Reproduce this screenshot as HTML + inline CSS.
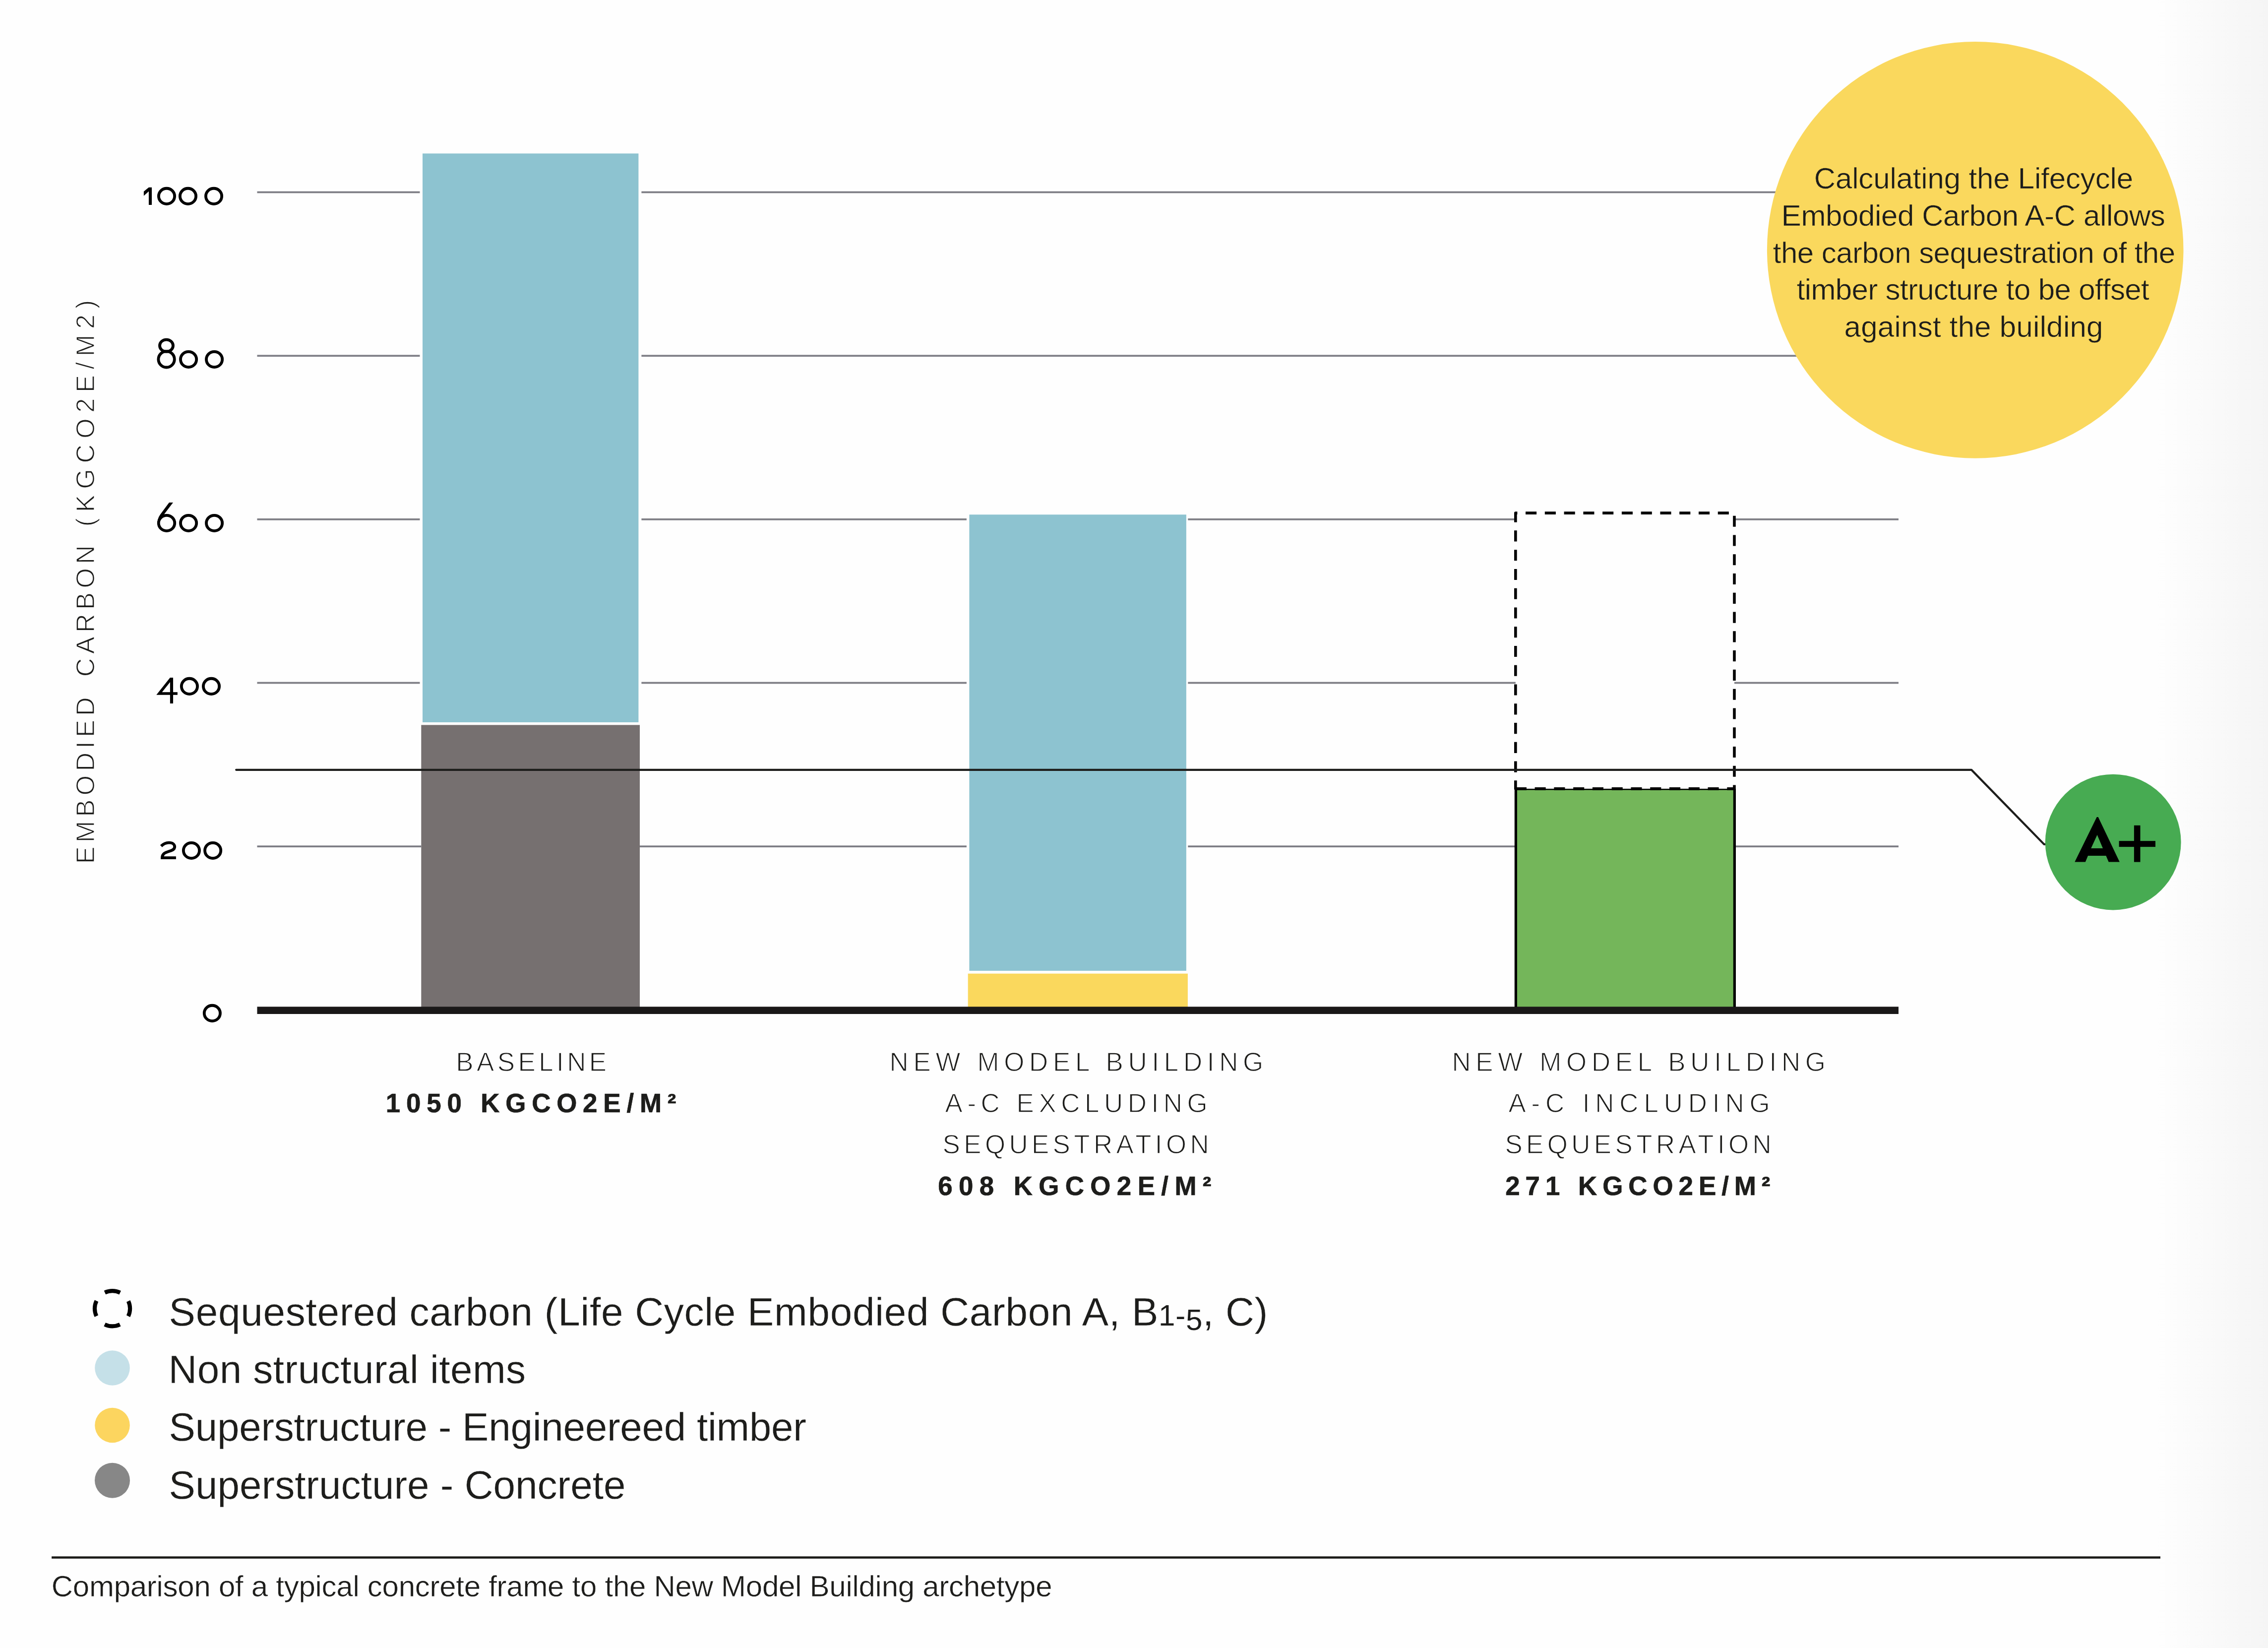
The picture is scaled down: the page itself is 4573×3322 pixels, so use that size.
<!DOCTYPE html>
<html lang="en"><head><meta charset="utf-8"><title>Embodied carbon comparison</title>
<style>html,body{margin:0;padding:0;background:#fefefe;}body{width:4573px;height:3322px;overflow:hidden;font-family:"Liberation Sans",sans-serif;}svg{display:block}</style></head><body>
<svg width="4573" height="3322" viewBox="0 0 4573 3322" role="img" aria-label="Embodied carbon comparison bar chart">
<defs><linearGradient id="rg" x1="0" x2="1" y1="0" y2="0"><stop offset="0" stop-color="#fefefe"/><stop offset="1" stop-color="#f5f5f5"/></linearGradient></defs>
<rect x="0" y="0" width="4573" height="3322" fill="#fefefe"/>
<rect x="4345" y="0" width="228" height="3322" fill="url(#rg)"/>
<rect x="518.50" y="385.65" width="328.00" height="3.7" fill="#7d7d84"/>
<rect x="1293.40" y="385.65" width="2406.60" height="3.7" fill="#7d7d84"/>
<rect x="518.50" y="715.35" width="328.00" height="3.7" fill="#7d7d84"/>
<rect x="1293.40" y="715.35" width="2406.60" height="3.7" fill="#7d7d84"/>
<rect x="518.50" y="1045.05" width="328.00" height="3.7" fill="#7d7d84"/>
<rect x="1293.40" y="1045.05" width="655.50" height="3.7" fill="#7d7d84"/>
<rect x="2395.30" y="1045.05" width="660.55" height="3.7" fill="#7d7d84"/>
<rect x="3497.00" y="1045.05" width="331.00" height="3.7" fill="#7d7d84"/>
<rect x="518.50" y="1374.65" width="328.00" height="3.7" fill="#7d7d84"/>
<rect x="1293.40" y="1374.65" width="655.50" height="3.7" fill="#7d7d84"/>
<rect x="2395.30" y="1374.65" width="660.55" height="3.7" fill="#7d7d84"/>
<rect x="3497.00" y="1374.65" width="331.00" height="3.7" fill="#7d7d84"/>
<rect x="518.50" y="1704.35" width="330.80" height="3.7" fill="#7d7d84"/>
<rect x="1290.00" y="1704.35" width="658.90" height="3.7" fill="#7d7d84"/>
<rect x="2395.30" y="1704.35" width="660.55" height="3.7" fill="#7d7d84"/>
<rect x="3497.00" y="1704.35" width="331.00" height="3.7" fill="#7d7d84"/>
<rect x="852" y="309.4" width="435.40" height="1146.60" fill="#8dc3d0"/>
<rect x="849.3" y="1461.4" width="440.70" height="568.90" fill="#767070"/>
<rect x="1954.4" y="1037.3" width="437.50" height="919.60" fill="#8dc3d0"/>
<rect x="1951.7" y="1962.6" width="443.20" height="67.70" fill="#fad85d"/>
<rect x="3056.4" y="1589.9" width="441.00" height="444.40" fill="#74b65a" stroke="#000" stroke-width="5.2"/>
<rect x="3053.1" y="1560" width="449" height="29.9" fill="#fefefe"/>
<path d="M3055.85 1589.9 H3497 V1034.15 H3055.85 Z" fill="none" stroke="#000" stroke-width="5.6" stroke-linejoin="round" stroke-dasharray="22.1 16.67"/>
<path d="M476.2 1551.8 H3975 L4121.5 1701.9 H4127" fill="none" stroke="#1d1d1b" stroke-width="4.2" stroke-linecap="round" stroke-linejoin="round"/>
<rect x="518.5" y="2029.3" width="3309.50" height="14.70" fill="#1a1818"/>
<circle cx="3982.7" cy="503.9" r="419.8" fill="#fad85d"/>
<circle cx="4260.7" cy="1697.6" r="136.9" fill="#47ab52"/>
<path fill="#000" fill-rule="evenodd" d="M4183.3 1737.6 L4227.8 1646.9 L4230.6 1646.9 L4273.8 1737.6 L4251.7 1737.6 L4246.4 1725 L4210 1725 L4204.8 1737.6 Z M4216.2 1710 L4240 1710 L4228.6 1682.9 Z"/>
<rect x="4302.9" y="1663.8" width="12.6" height="73.8" fill="#000"/>
<rect x="4272.6" y="1695.2" width="73.4" height="11.9" fill="#000"/>
<circle cx="226.55" cy="2637.75" r="35.6" fill="none" stroke="#000" stroke-width="8.15" stroke-dasharray="31.8 24.12" stroke-dashoffset="15.9"/>
<circle cx="226.5" cy="2757.5" r="35.3" fill="#c5e0e8"/>
<circle cx="226.5" cy="2873" r="35.3" fill="#fcd55f"/>
<circle cx="226.5" cy="2984.2" r="35.5" fill="#878787"/>
<rect x="104.1" y="3137.3" width="4251.90" height="4.5" fill="#1a1a18"/>
<path fill="#000" d="M299.96 377.8 H306.07 V413 H299.96 V385.8 L289.9 394.8 V386.1 Z"/>
<ellipse cx="336.0" cy="395.4" rx="16.1" ry="15.65" fill="none" stroke="#000" stroke-width="5.8"/>
<ellipse cx="379.0" cy="395.4" rx="16.1" ry="15.65" fill="none" stroke="#000" stroke-width="5.8"/>
<ellipse cx="431.05" cy="395.4" rx="16.1" ry="15.65" fill="none" stroke="#000" stroke-width="5.8"/>
<ellipse cx="335.5" cy="696.8" rx="13.5" ry="12.15" fill="none" stroke="#000" stroke-width="5.8"/>
<circle cx="335.6" cy="724.3" r="16.2" fill="none" stroke="#000" stroke-width="5.8"/>
<ellipse cx="380.1" cy="724.45" rx="16.1" ry="15.65" fill="none" stroke="#000" stroke-width="5.8"/>
<ellipse cx="432.1" cy="724.45" rx="16.1" ry="15.65" fill="none" stroke="#000" stroke-width="5.8"/>
<path fill="#000" d="M341.1 1012.9 H349 L330.5 1037.2 L321 1050 L317.9 1048.3 Q319.2 1042.3 323.2 1037.0 Z"/>
<ellipse cx="336.0" cy="1054.45" rx="16.25" ry="15.65" fill="none" stroke="#000" stroke-width="5.8"/>
<ellipse cx="380.1" cy="1054.45" rx="16.1" ry="15.65" fill="none" stroke="#000" stroke-width="5.8"/>
<ellipse cx="432.1" cy="1054.45" rx="16.1" ry="15.65" fill="none" stroke="#000" stroke-width="5.8"/>
<path fill="#000" fill-rule="evenodd" d="M342.9 1365.9 H349.05 V1395.3 H357.9 V1400.8 H349.05 V1417.9 H342.9 V1400.8 H315.3 Z M342.9 1375 L326.7 1395.3 H342.9 Z"/>
<ellipse cx="381.95" cy="1383.4" rx="16.1" ry="15.65" fill="none" stroke="#000" stroke-width="5.8"/>
<ellipse cx="426.05" cy="1383.4" rx="16.1" ry="15.65" fill="none" stroke="#000" stroke-width="5.8"/>
<path fill="none" stroke="#000" stroke-width="5.8" stroke-linejoin="miter" d="M324.9 1705.6 C329 1701.6 334.2 1698.7 340.6 1698.7 C348 1698.7 352.2 1702.1 352.2 1707 C352.2 1712.4 346.6 1714.4 340.4 1716.2 C332.8 1718.5 327.0 1721.2 327.0 1729.05 H354.9"/>
<ellipse cx="385.95" cy="1714.45" rx="16.1" ry="15.65" fill="none" stroke="#000" stroke-width="5.8"/>
<ellipse cx="429.15" cy="1714.45" rx="16.1" ry="15.65" fill="none" stroke="#000" stroke-width="5.8"/>
<ellipse cx="427.9" cy="2042.4" rx="16.1" ry="15.65" fill="none" stroke="#000" stroke-width="5.8"/>
<text id="yl1" x="0" y="0" transform="translate(189.90 1741.20) rotate(-90)" style="font-family:'Liberation Sans',sans-serif;font-size:52.3px;font-weight:400;letter-spacing:8.157px;" fill="#1d1d1b" stroke="#fefefe" stroke-width="1.35" stroke-linejoin="round" xml:space="preserve">EMBODIED</text>
<text id="yl2" x="0" y="0" transform="translate(189.90 1364.20) rotate(-90)" style="font-family:'Liberation Sans',sans-serif;font-size:52.3px;font-weight:400;letter-spacing:8.260px;" fill="#1d1d1b" stroke="#fefefe" stroke-width="1.35" stroke-linejoin="round" xml:space="preserve">CARBON</text>
<text id="yl3" x="0" y="0" transform="translate(189.90 1061.40) rotate(-90)" style="font-family:'Liberation Sans',sans-serif;font-size:52.3px;font-weight:400;letter-spacing:11.660px;" fill="#1d1d1b" stroke="#fefefe" stroke-width="1.35" stroke-linejoin="round" xml:space="preserve">(KGCO2E/M2)</text>
<text id="l1a" x="919.20" y="2159.30" style="font-family:'Liberation Sans',sans-serif;font-size:52.9px;font-weight:400;letter-spacing:6.457px;" fill="#1d1d1b" stroke="#fefefe" stroke-width="1.35" stroke-linejoin="round" xml:space="preserve">BASELINE</text>
<text id="l1b" x="777.80" y="2242.20" style="font-family:'Liberation Sans',sans-serif;font-size:52.9px;font-weight:700;letter-spacing:11.808px;" fill="#1d1d1b" stroke="#1d1d1b" stroke-width="0.7" stroke-linejoin="miter" xml:space="preserve">1050 KGCO2E/M²</text>
<text id="l2a" x="1793.60" y="2159.30" style="font-family:'Liberation Sans',sans-serif;font-size:52.9px;font-weight:400;letter-spacing:9.700px;" fill="#1d1d1b" stroke="#fefefe" stroke-width="1.35" stroke-linejoin="round" xml:space="preserve">NEW MODEL BUILDING</text>
<text id="l2b" x="1905.60" y="2242.40" style="font-family:'Liberation Sans',sans-serif;font-size:52.9px;font-weight:400;letter-spacing:9.550px;" fill="#1d1d1b" stroke="#fefefe" stroke-width="1.35" stroke-linejoin="round" xml:space="preserve">A-C EXCLUDING</text>
<text id="l2c" x="1900.60" y="2325.40" style="font-family:'Liberation Sans',sans-serif;font-size:52.9px;font-weight:400;letter-spacing:7.367px;" fill="#1d1d1b" stroke="#fefefe" stroke-width="1.35" stroke-linejoin="round" xml:space="preserve">SEQUESTRATION</text>
<text id="l2d" x="1891.20" y="2408.60" style="font-family:'Liberation Sans',sans-serif;font-size:52.9px;font-weight:700;letter-spacing:12.383px;" fill="#1d1d1b" stroke="#1d1d1b" stroke-width="0.7" stroke-linejoin="miter" xml:space="preserve">608 KGCO2E/M²</text>
<text id="l3a" x="2927.40" y="2159.30" style="font-family:'Liberation Sans',sans-serif;font-size:52.9px;font-weight:400;letter-spacing:9.700px;" fill="#1d1d1b" stroke="#fefefe" stroke-width="1.35" stroke-linejoin="round" xml:space="preserve">NEW MODEL BUILDING</text>
<text id="l3b" x="3041.40" y="2242.40" style="font-family:'Liberation Sans',sans-serif;font-size:52.9px;font-weight:400;letter-spacing:10.875px;" fill="#1d1d1b" stroke="#fefefe" stroke-width="1.35" stroke-linejoin="round" xml:space="preserve">A-C INCLUDING</text>
<text id="l3c" x="3034.40" y="2325.40" style="font-family:'Liberation Sans',sans-serif;font-size:52.9px;font-weight:400;letter-spacing:7.392px;" fill="#1d1d1b" stroke="#fefefe" stroke-width="1.35" stroke-linejoin="round" xml:space="preserve">SEQUESTRATION</text>
<text id="l3d" x="3035.20" y="2408.60" style="font-family:'Liberation Sans',sans-serif;font-size:52.9px;font-weight:700;letter-spacing:10.967px;" fill="#1d1d1b" stroke="#1d1d1b" stroke-width="0.7" stroke-linejoin="miter" xml:space="preserve">271 KGCO2E/M²</text>
<text id="c1" x="3657.80" y="379.90" style="font-family:'Liberation Sans',sans-serif;font-size:60px;font-weight:400;letter-spacing:-0.158px;" fill="#1d1d1b" stroke="#fad85d" stroke-width="0.6" stroke-linejoin="round" xml:space="preserve">Calculating the Lifecycle</text>
<text id="c2" x="3591.80" y="454.80" style="font-family:'Liberation Sans',sans-serif;font-size:60px;font-weight:400;letter-spacing:-0.388px;" fill="#1d1d1b" stroke="#fad85d" stroke-width="0.6" stroke-linejoin="round" xml:space="preserve">Embodied Carbon A-C allows</text>
<text id="c3" x="3574.80" y="529.60" style="font-family:'Liberation Sans',sans-serif;font-size:60px;font-weight:400;letter-spacing:-0.533px;" fill="#1d1d1b" stroke="#fad85d" stroke-width="0.6" stroke-linejoin="round" xml:space="preserve">the carbon sequestration of the</text>
<text id="c4" x="3622.80" y="604.40" style="font-family:'Liberation Sans',sans-serif;font-size:60px;font-weight:400;letter-spacing:-0.657px;" fill="#1d1d1b" stroke="#fad85d" stroke-width="0.6" stroke-linejoin="round" xml:space="preserve">timber structure to be offset</text>
<text id="c5" x="3718.60" y="679.30" style="font-family:'Liberation Sans',sans-serif;font-size:60px;font-weight:400;letter-spacing:0.253px;" fill="#1d1d1b" stroke="#fad85d" stroke-width="0.6" stroke-linejoin="round" xml:space="preserve">against the building</text>
<text id="g1" x="340.60" y="2671.80" style="font-family:'Liberation Sans',sans-serif;font-size:80px;font-weight:400;letter-spacing:0.760px;" fill="#1d1d1b" stroke="#fefefe" stroke-width="0.3" stroke-linejoin="round" xml:space="preserve">Sequestered carbon (Life Cycle Embodied Carbon A, B<tspan style="font-size:60px" stroke-width="0">1-</tspan><tspan style="font-size:60px" stroke-width="0" dy="9">5</tspan><tspan dy="-9">, C)</tspan></text>
<text id="g2" x="339.40" y="2788.10" style="font-family:'Liberation Sans',sans-serif;font-size:80px;font-weight:400;letter-spacing:0.495px;" fill="#1d1d1b" stroke="#fefefe" stroke-width="0.3" stroke-linejoin="round" xml:space="preserve">Non structural items</text>
<text id="g3" x="340.60" y="2903.90" style="font-family:'Liberation Sans',sans-serif;font-size:80px;font-weight:400;letter-spacing:-0.253px;" fill="#1d1d1b" stroke="#fefefe" stroke-width="0.3" stroke-linejoin="round" xml:space="preserve">Superstructure - Engineereed timber</text>
<text id="g4" x="340.60" y="3021.40" style="font-family:'Liberation Sans',sans-serif;font-size:80px;font-weight:400;letter-spacing:0.021px;" fill="#1d1d1b" stroke="#fefefe" stroke-width="0.3" stroke-linejoin="round" xml:space="preserve">Superstructure - Concrete</text>
<text id="cap" x="103.80" y="3217.50" style="font-family:'Liberation Sans',sans-serif;font-size:60px;font-weight:400;letter-spacing:-0.273px;" fill="#1d1d1b" stroke="#fefefe" stroke-width="0.5" stroke-linejoin="round" xml:space="preserve">Comparison of a typical concrete frame to the New Model Building archetype</text>
</svg></body></html>
